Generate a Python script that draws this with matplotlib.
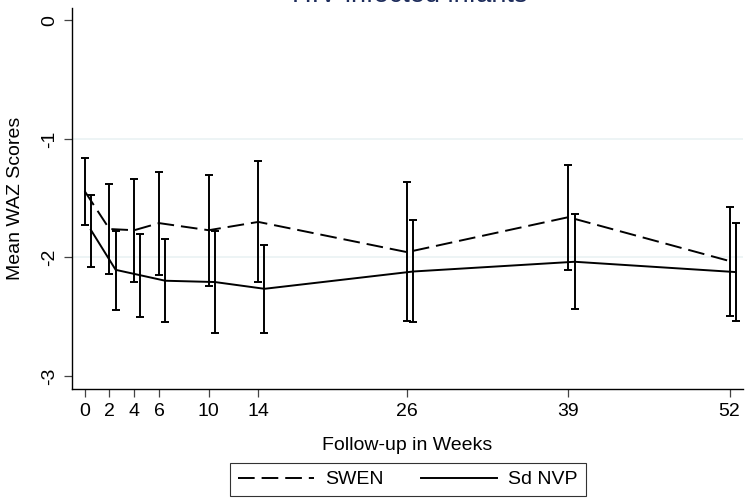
import numpy as np
import matplotlib.pyplot as plt
from matplotlib.lines import Line2D

plt.rcParams['font.family'] = ['Liberation Sans', 'DejaVu Sans']
plt.rcParams['lines.scale_dashes'] = False

# follow-up visits (weeks)
weeks = [0, 2, 4, 6, 10, 14, 26, 39, 52]

# SWEN arm: mean WAZ and 95% CI
swen_mean = [-1.44, -1.76, -1.77, -1.71, -1.77, -1.70, -1.955, -1.66, -2.03]
swen_lo = [-1.725, -2.143, -2.207, -2.148, -2.244, -2.207, -2.539, -2.109, -2.497]
swen_hi = [-1.157, -1.382, -1.340, -1.275, -1.303, -1.185, -1.365, -1.216, -1.573]

# single-dose NVP arm
sdnvp_mean = [-1.767, -2.104, -2.150, -2.196, -2.207, -2.264, -2.118, -2.036, -2.123]
sdnvp_lo = [-2.076, -2.446, -2.505, -2.547, -2.637, -2.637, -2.545, -2.438, -2.539]
sdnvp_hi = [-1.472, -1.775, -1.803, -1.840, -1.775, -1.893, -1.685, -1.634, -1.713]

fig = plt.figure(figsize=(7.5, 5), dpi=100)
ax = fig.add_axes([72/750, 1-389/500, 671/750, 381/500])

x = np.array(weeks, dtype=float)
lw = 1.4
fs = 14

# grid lines
for g in [-1, -2]:
    ax.axhline(g, color='#eaf2f3', lw=1.2, zorder=0)

# SWEN (dashed)
m = np.array(swen_mean)
err = [m - np.array(swen_lo), np.array(swen_hi) - m]
ax.errorbar(x, m, yerr=err, fmt='none', ecolor='black', elinewidth=lw,
            capsize=2.8, capthick=lw)
ax.plot(x, m, color='black', lw=lw, dashes=(12, 5))

# Sd NVP (solid), shifted a little to the right
m2 = np.array(sdnvp_mean)
err2 = [m2 - np.array(sdnvp_lo), np.array(sdnvp_hi) - m2]
ax.errorbar(x + 0.5, m2, yerr=err2, fmt='none', ecolor='black', elinewidth=lw,
            capsize=2.8, capthick=lw)
ax.plot(x + 0.5, m2, color='black', lw=lw)

ax.set_xlim(-1.02, 53.08)
ax.set_ylim(-3.109, 0.104)
ax.set_xticks(weeks)
ax.set_yticks([0, -1, -2, -3])
ax.set_yticklabels(['0', '-1', '-2', '-3'], rotation=90, va='center')
ax.tick_params(labelsize=fs, length=6, width=0.9, color='#444444', pad=4)
ax.spines['top'].set_visible(False)
ax.spines['right'].set_visible(False)
ax.spines['left'].set_linewidth(1.0)
ax.spines['bottom'].set_linewidth(1.0)

ax.set_xlabel('Follow-up in Weeks', fontsize=fs, labelpad=12)
ax.set_ylabel('Mean WAZ Scores', fontsize=fs, labelpad=12)

fig.text(410/750, 1 - 2/500, 'HIV-infected infants', ha='center',
         va='baseline', fontsize=19.5, color='#1e2d5c')

handles = [Line2D([], [], color='black', lw=lw, dashes=(12, 5)),
           Line2D([], [], color='black', lw=lw)]
leg = fig.legend(handles, ['SWEN', 'Sd NVP'], loc='lower center',
                 bbox_to_anchor=(408/750, -0.012), ncol=2, fontsize=fs,
                 handlelength=3.9, handletextpad=0.6, columnspacing=1.9,
                 borderpad=0.4, frameon=True, fancybox=False)
leg.get_frame().set_edgecolor('black')
leg.get_frame().set_linewidth(0.8)

fig.savefig('out.png', dpi=100)
